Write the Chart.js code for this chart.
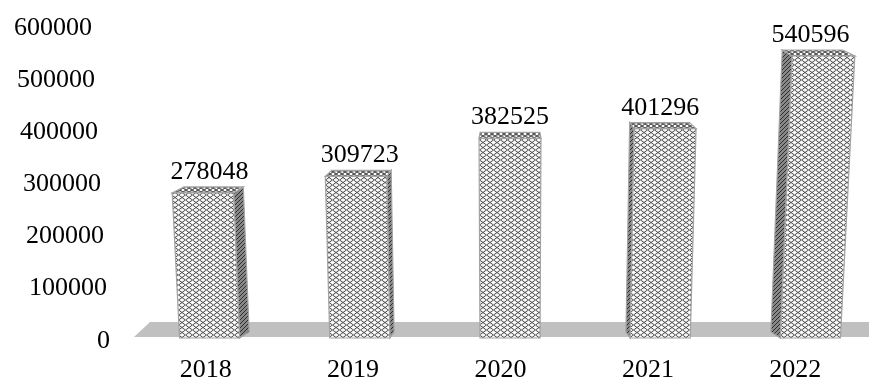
<!DOCTYPE html>
<html>
<head>
<meta charset="utf-8">
<script src="https://cdn.jsdelivr.net/npm/chart.js@4.4.1/dist/chart.umd.min.js"></script>
<style>
  html, body { margin: 0; padding: 0; background: #fff; }
  #wrap { width: 869px; height: 380px; position: relative; }
</style>
</head>
<body>
<div id="wrap"><canvas id="chart"></canvas></div>
<script>
const years = ['2018', '2019', '2020', '2021', '2022'];
const totals = [278048, 309723, 382525, 401296, 540596];
const yMin = 0;
const yMax = 600000;
const yStep = 100000;

const FONT = "'Liberation Serif', 'Times New Roman', serif";

// perspective look of the 3d columns
const SPREAD = 1.019;     // columns sit slightly wider apart than the category labels
const LEAN = 0.000154;    // vertical edges fan out with height
const DEPTH_X = 0.035;    // side faces converge toward the middle
const DEPTH_Y = -6;       // top face thickness

function tile(w, h, bg, fg, draw) {
  const c = document.createElement('canvas');
  c.width = w; c.height = h;
  const g = c.getContext('2d');
  g.fillStyle = bg;
  g.fillRect(0, 0, w, h);
  g.strokeStyle = fg;
  g.lineWidth = 1;
  draw(g, w, h);
  return c;
}

function diamonds(g, w, h) {
  g.beginPath();
  g.moveTo(0, h / 2); g.lineTo(w / 2, 0); g.lineTo(w, h / 2); g.lineTo(w / 2, h); g.closePath();
  g.stroke();
  // small light dot in each cell
  g.fillStyle = '#ffffff';
  g.fillRect(w / 2 - 1, h / 2 - 1, 2, 2);
  g.fillRect(0, 0, 1, 1);
}

function hatch(g, w, h) {
  g.beginPath();
  g.moveTo(0, h); g.lineTo(w, 0);
  g.moveTo(-w / 2, h / 2); g.lineTo(w / 2, -h / 2);
  g.moveTo(w / 2, h * 1.5); g.lineTo(w * 1.5, h / 2);
  g.stroke();
}

const frontTile = tile(7, 5, '#f4f4f4', '#4c4c4c', diamonds);
const sideTile = tile(4, 4, '#888888', '#2e2e2e', hatch);
const topTile = tile(6, 4, '#c0c0c0', '#4a4a4a', diamonds);

function poly(ctx, pts, fill, stroke) {
  ctx.beginPath();
  ctx.moveTo(pts[0][0], pts[0][1]);
  for (let i = 1; i < pts.length; i++) ctx.lineTo(pts[i][0], pts[i][1]);
  ctx.closePath();
  ctx.fillStyle = fill;
  ctx.fill();
  ctx.strokeStyle = stroke;
  ctx.lineWidth = 1.2;
  ctx.stroke();
}

const box3d = {
  id: 'box3d',
  beforeDatasetsDraw(chart) {
    const { ctx, chartArea: a } = chart;
    const ys = chart.scales.y;
    const base = ys.getPixelForValue(0);

    ctx.save();
    // floor
    ctx.fillStyle = '#c0c0c0';
    ctx.beginPath();
    ctx.moveTo(a.left + 2, base - 1);
    ctx.lineTo(chart.width + 10, base - 1);
    ctx.lineTo(chart.width + 10, base - 16);
    ctx.lineTo(a.left + 18, base - 16);
    ctx.closePath();
    ctx.fill();

    // value axis labels along the slanted back wall
    ctx.fillStyle = '#000';
    ctx.font = '26px ' + FONT;
    ctx.textAlign = 'right';
    ctx.textBaseline = 'alphabetic';
    ys.ticks.forEach(t => {
      const py = ys.getPixelForValue(t.value);
      const f = (base - py) / (base - a.top);
      ctx.fillText(t.label, a.left - 22 - 18 * f, py + 9.5);
    });
    ctx.restore();
  },
  afterDatasetsDraw(chart) {
    const { ctx, chartArea: a } = chart;
    const base = chart.scales.y.getPixelForValue(0);
    const cx = (a.left + a.right) / 2 * SPREAD;
    const frontFill = ctx.createPattern(frontTile, 'repeat');
    const sideFill = ctx.createPattern(sideTile, 'repeat');
    const topFill = ctx.createPattern(topTile, 'repeat');
    const edge = '#a3a3a3';

    const proj = (x, y) => {
      const h = base - y;
      return [cx + (x * SPREAD - cx) * (1 + LEAN * h), y];
    };
    const back = p => [p[0] + DEPTH_X * (cx - p[0]), p[1] + DEPTH_Y];

    ctx.save();
    chart.getDatasetMeta(0).data.forEach((bar, i) => {
      const { x, y, width } = bar.getProps(['x', 'y', 'width'], true);
      const bl = proj(x - width / 2, base);
      const br = proj(x + width / 2, base);
      const tl = proj(x - width / 2, y);
      const tr = proj(x + width / 2, y);
      const bbl = back(bl), bbr = back(br), btl = back(tl), btr = back(tr);

      if (btr[0] > tr[0]) poly(ctx, [br, tr, btr, bbr], sideFill, edge);
      if (btl[0] < tl[0]) poly(ctx, [bl, tl, btl, bbl], sideFill, edge);
      poly(ctx, [tl, tr, btr, btl], topFill, edge);
      poly(ctx, [bl, br, tr, tl], frontFill, edge);

      ctx.fillStyle = '#000';
      ctx.font = '26px ' + FONT;
      ctx.textAlign = 'center';
      ctx.textBaseline = 'alphabetic';
      ctx.fillText(String(totals[i]), x * SPREAD, y - 14);
    });
    ctx.restore();
  }
};

new Chart(document.getElementById('chart'), {
  type: 'bar',
  data: {
    labels: years,
    datasets: [{
      data: totals,
      backgroundColor: 'rgba(0,0,0,0)',
      borderWidth: 0,
      categoryPercentage: 1,
      barPercentage: 0.4
    }]
  },
  options: {
    responsive: true,
    maintainAspectRatio: false,
    animation: false,
    layout: { padding: { top: 25, right: 0, bottom: 0, left: 0 } },
    plugins: {
      legend: { display: false },
      tooltip: { enabled: false }
    },
    scales: {
      x: {
        grid: { display: false, drawTicks: false },
        border: { display: false },
        ticks: { color: '#000', padding: 17, font: { family: FONT, size: 26 } },
        afterFit: scale => { scale.height = 42; }
      },
      y: {
        min: yMin,
        max: yMax,
        grid: { display: false, drawTicks: false },
        border: { display: false },
        ticks: { display: false, stepSize: yStep, callback: v => String(v) },
        afterFit: scale => { scale.width = 132; }
      }
    }
  },
  plugins: [box3d]
});
</script>
</body>
</html>
